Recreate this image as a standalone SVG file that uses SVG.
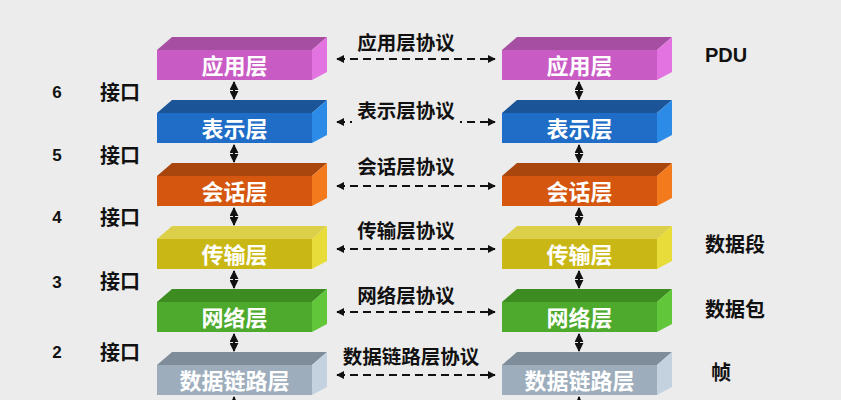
<svg xmlns="http://www.w3.org/2000/svg" width="841" height="400" viewBox="0 0 841 400">
<defs>
<style>
.lbl{font-family:"Liberation Sans","Noto Sans CJK SC",sans-serif;font-weight:bold;font-size:22px;fill:#fff;text-anchor:middle;dominant-baseline:central}
.txt{font-family:"Liberation Sans","Noto Sans CJK SC",sans-serif;font-weight:bold;font-size:20px;fill:#111;dominant-baseline:central}
.num{font-family:"Liberation Sans","Noto Sans CJK SC",sans-serif;font-weight:bold;font-size:17px;fill:#111;text-anchor:middle;dominant-baseline:central}
.proto{font-family:"Liberation Sans","Noto Sans CJK SC",sans-serif;font-weight:bold;font-size:19.5px;fill:#111;text-anchor:middle;dominant-baseline:central}
.dash{stroke:#111;stroke-width:2;stroke-dasharray:8 5;fill:none}
.v{stroke:#111;stroke-width:2;fill:none}
</style>
<marker id="ah" viewBox="0 0 10 10" refX="9" refY="5" markerWidth="4" markerHeight="4" orient="auto-start-reverse" markerUnits="strokeWidth">
<path d="M0,0 L10,5 L0,10 z" fill="#111"/>
</marker>
<marker id="vh" viewBox="0 0 10 10" refX="9" refY="5" markerWidth="4.5" markerHeight="4.5" orient="auto-start-reverse" markerUnits="strokeWidth">
<path d="M0,0 L10,5 L0,10 z" fill="#111"/>
</marker>
</defs>
<rect width="841" height="400" fill="#ECECEC"/>

<g id="connectors">
<line class="dash" x1="337" y1="59" x2="495" y2="59" marker-start="url(#ah)" marker-end="url(#ah)"/>
<line class="dash" x1="337" y1="122" x2="495" y2="122" marker-start="url(#ah)" marker-end="url(#ah)"/>
<line class="dash" x1="337" y1="186" x2="495" y2="186" marker-start="url(#ah)" marker-end="url(#ah)"/>
<line class="dash" x1="337" y1="249" x2="495" y2="249" marker-start="url(#ah)" marker-end="url(#ah)"/>
<line class="dash" x1="337" y1="312" x2="495" y2="312" marker-start="url(#ah)" marker-end="url(#ah)"/>
<line class="dash" x1="337" y1="375" x2="495" y2="375" marker-start="url(#ah)" marker-end="url(#ah)"/>
<line class="v" x1="234" y1="82" x2="234" y2="99" marker-start="url(#vh)" marker-end="url(#vh)"/>
<line class="v" x1="234" y1="145" x2="234" y2="162" marker-start="url(#vh)" marker-end="url(#vh)"/>
<line class="v" x1="234" y1="208" x2="234" y2="225" marker-start="url(#vh)" marker-end="url(#vh)"/>
<line class="v" x1="234" y1="271" x2="234" y2="288" marker-start="url(#vh)" marker-end="url(#vh)"/>
<line class="v" x1="234" y1="334" x2="234" y2="351" marker-start="url(#vh)" marker-end="url(#vh)"/>
<line class="v" x1="234" y1="397" x2="234" y2="412" marker-start="url(#vh)"/>
<line class="v" x1="579" y1="82" x2="579" y2="99" marker-start="url(#vh)" marker-end="url(#vh)"/>
<line class="v" x1="579" y1="145" x2="579" y2="162" marker-start="url(#vh)" marker-end="url(#vh)"/>
<line class="v" x1="579" y1="208" x2="579" y2="225" marker-start="url(#vh)" marker-end="url(#vh)"/>
<line class="v" x1="579" y1="271" x2="579" y2="288" marker-start="url(#vh)" marker-end="url(#vh)"/>
<line class="v" x1="579" y1="334" x2="579" y2="351" marker-start="url(#vh)" marker-end="url(#vh)"/>
<line class="v" x1="579" y1="397" x2="579" y2="412" marker-start="url(#vh)"/>
</g>

<g id="app-left" transform="translate(157,50)"><polygon points="0,0 155,0 170,-13 15,-13" fill="#A64FA2"/><polygon points="155,0 170,-13 170,22 155,30" fill="#E273E0"/><rect width="155" height="30" fill="#C95BC5"/><text class="lbl" x="77.5" y="16">应用层</text></g>
<g id="pres-left" transform="translate(157,113)"><polygon points="0,0 155,0 170,-13 15,-13" fill="#1B5598"/><polygon points="155,0 170,-13 170,22 155,30" fill="#2B8BE6"/><rect width="155" height="30" fill="#1F6DC6"/><text class="lbl" x="77.5" y="16">表示层</text></g>
<g id="sess-left" transform="translate(157,176)"><polygon points="0,0 155,0 170,-13 15,-13" fill="#A9460D"/><polygon points="155,0 170,-13 170,22 155,30" fill="#F47A1E"/><rect width="155" height="30" fill="#D5560E"/><text class="lbl" x="77.5" y="16">会话层</text></g>
<g id="trans-left" transform="translate(157,239)"><polygon points="0,0 155,0 170,-13 15,-13" fill="#DCD04A"/><polygon points="155,0 170,-13 170,22 155,30" fill="#E8DC3A"/><rect width="155" height="30" fill="#C9B716"/><text class="lbl" x="77.5" y="16">传输层</text></g>
<g id="net-left" transform="translate(157,302)"><polygon points="0,0 155,0 170,-13 15,-13" fill="#3C8C22"/><polygon points="155,0 170,-13 170,22 155,30" fill="#62C63A"/><rect width="155" height="30" fill="#4DAA2C"/><text class="lbl" x="77.5" y="16">网络层</text></g>
<g id="link-left" transform="translate(157,365)"><polygon points="0,0 155,0 170,-13 15,-13" fill="#7F8C99"/><polygon points="155,0 170,-13 170,22 155,30" fill="#C3D2DE"/><rect width="155" height="30" fill="#9DADBC"/><text class="lbl" x="77.5" y="16">数据链路层</text></g>

<g id="app-right" transform="translate(502,50)"><polygon points="0,0 155,0 170,-13 15,-13" fill="#A64FA2"/><polygon points="155,0 170,-13 170,22 155,30" fill="#E273E0"/><rect width="155" height="30" fill="#C95BC5"/><text class="lbl" x="77.5" y="16">应用层</text></g>
<g id="pres-right" transform="translate(502,113)"><polygon points="0,0 155,0 170,-13 15,-13" fill="#1B5598"/><polygon points="155,0 170,-13 170,22 155,30" fill="#2B8BE6"/><rect width="155" height="30" fill="#1F6DC6"/><text class="lbl" x="77.5" y="16">表示层</text></g>
<g id="sess-right" transform="translate(502,176)"><polygon points="0,0 155,0 170,-13 15,-13" fill="#A9460D"/><polygon points="155,0 170,-13 170,22 155,30" fill="#F47A1E"/><rect width="155" height="30" fill="#D5560E"/><text class="lbl" x="77.5" y="16">会话层</text></g>
<g id="trans-right" transform="translate(502,239)"><polygon points="0,0 155,0 170,-13 15,-13" fill="#DCD04A"/><polygon points="155,0 170,-13 170,22 155,30" fill="#E8DC3A"/><rect width="155" height="30" fill="#C9B716"/><text class="lbl" x="77.5" y="16">传输层</text></g>
<g id="net-right" transform="translate(502,302)"><polygon points="0,0 155,0 170,-13 15,-13" fill="#3C8C22"/><polygon points="155,0 170,-13 170,22 155,30" fill="#62C63A"/><rect width="155" height="30" fill="#4DAA2C"/><text class="lbl" x="77.5" y="16">网络层</text></g>
<g id="link-right" transform="translate(502,365)"><polygon points="0,0 155,0 170,-13 15,-13" fill="#7F8C99"/><polygon points="155,0 170,-13 170,22 155,30" fill="#C3D2DE"/><rect width="155" height="30" fill="#9DADBC"/><text class="lbl" x="77.5" y="16">数据链路层</text></g>

<g id="protocols">
<text class="proto" x="406" y="43">应用层协议</text>
<rect x="352" y="100" width="108" height="26" fill="#ECECEC"/>
<text class="proto" x="406" y="111">表示层协议</text>
<text class="proto" x="406" y="167">会话层协议</text>
<text class="proto" x="406" y="231">传输层协议</text>
<text class="proto" x="406" y="296">网络层协议</text>
<text class="proto" x="411" y="357">数据链路层协议</text>
</g>

<g id="interfaces">
<text class="num" x="57" y="92">6</text><text class="txt" x="100" y="93">接口</text>
<text class="num" x="57" y="155">5</text><text class="txt" x="100" y="156">接口</text>
<text class="num" x="57" y="217">4</text><text class="txt" x="100" y="218">接口</text>
<text class="num" x="57" y="282">3</text><text class="txt" x="100" y="282">接口</text>
<text class="num" x="57" y="352">2</text><text class="txt" x="100" y="353">接口</text>
</g>

<g id="pdu">
<text class="txt" x="705" y="55">PDU</text>
<text class="txt" x="705" y="245">数据段</text>
<text class="txt" x="705" y="310">数据包</text>
<text class="txt" x="711" y="373">帧</text>
</g>
</svg>
